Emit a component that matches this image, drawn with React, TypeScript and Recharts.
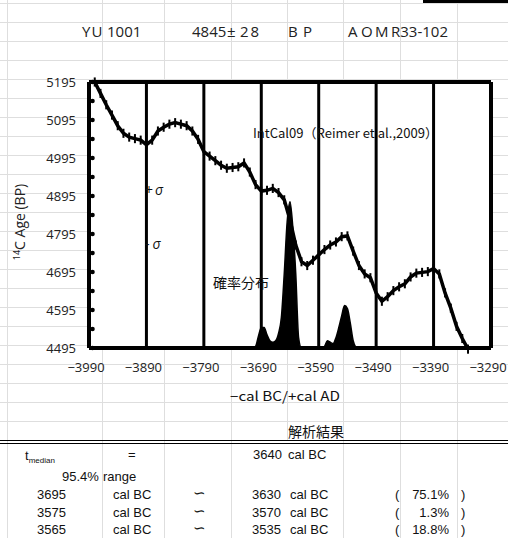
import { ComposedChart, Line, Area, XAxis, YAxis, CartesianGrid, ErrorBar, ReferenceLine } from 'recharts'

// IntCal09 curve, read every 10 years off the picture
const calYears = [
  -3980, -3970, -3960, -3950, -3940, -3930, -3920, -3910, -3900, -3890,
  -3880, -3870, -3860, -3850, -3840, -3830, -3820, -3810, -3800, -3790,
  -3780, -3770, -3760, -3750, -3740, -3730, -3720, -3710, -3700, -3690,
  -3680, -3670, -3660, -3650, -3640, -3630, -3620, -3610, -3600, -3590,
  -3580, -3570, -3560, -3550, -3540, -3530, -3520, -3510, -3500, -3490,
  -3480, -3470, -3460, -3450, -3440, -3430, -3420, -3410, -3400, -3390,
  -3380, -3370, -3360, -3350, -3340, -3330,
]
const c14Age = [
  5195, 5165, 5135, 5108, 5080, 5060, 5050, 5046, 5042, 5030,
  5042, 5066, 5076, 5084, 5088, 5084, 5080, 5066, 5044, 5012,
  5000, 4988, 4976, 4968, 4970, 4972, 4982, 4958, 4925, 4908,
  4910, 4915, 4904, 4885, 4832, 4766, 4722, 4712, 4726, 4740,
  4754, 4766, 4774, 4788, 4790, 4750, 4712, 4690, 4680, 4640,
  4618, 4630, 4646, 4656, 4664, 4682, 4692, 4694, 4696, 4704,
  4690, 4640, 4600, 4552, 4520, 4492,
]
const c14Err = [
  12, 12, 12, 12, 12, 12, 12, 12, 12, 12,
  12, 12, 12, 12, 12, 12, 12, 12, 12, 12,
  12, 12, 12, 12, 12, 12, 12, 12, 12, 12,
  12, 12, 12, 12, 12, 12, 12, 12, 12, 12,
  12, 12, 12, 12, 12, 12, 12, 12, 12, 12,
  12, 12, 12, 12, 12, 12, 12, 12, 12, 12,
  12, 12, 12, 12, 12, 12,
]

// probability distribution (relative, peak = 100)
const probYears = [
  -3705, -3700, -3695, -3690, -3685, -3680, -3675, -3670, -3665, -3660,
  -3655, -3650, -3645, -3640, -3635, -3630, -3625, -3620,
  -3585, -3580, -3575, -3570, -3565, -3560, -3555, -3550, -3545, -3540,
  -3535, -3530, -3525,
]
const probValues = [
  0, 1, 8, 14, 14, 9, 5, 4, 5, 10,
  21, 51, 86, 100, 82, 51, 7, 0,
  0, 1, 5, 4, 3, 7, 14, 22, 29, 27,
  17, 5, 0,
]

const xTicks = [-3990, -3890, -3790, -3690, -3590, -3490, -3390, -3290]
const yTicks = [
  4495, 4545, 4595, 4645, 4695, 4745, 4795, 4845,
  4895, 4945, 4995, 5045, 5095, 5145, 5195,
]

const curveData = calYears.map((year, i) => ({ year, age: c14Age[i], err: c14Err[i] }))
const probData = probYears.map((year, i) => ({ year, p: probValues[i] }))

const PLOT_LEFT = 89
const PLOT_BOTTOM = 348
const AXIS_FONT = '"Open Sans", sans-serif'
const JP_FONT = '"Noto Sans CJK JP", sans-serif'
const TABLE_FONT = '"Liberation Sans", Arial, sans-serif'

const gridCols = [7, 102, 164, 231, 287, 343, 400, 457]
const gridRows = [3, 22, 41, 60, 79, 98, 117, 136, 155, 174, 193, 212, 231, 250, 269, 288, 307, 326, 345, 364, 383, 402, 421]

function YTick({ y, payload }: any) {
  const v = payload.value
  const major = (v - 4495) % 100 === 0
  return (
    <g>
      <circle cx={PLOT_LEFT + 3.5} cy={y} r={2.3} fill="#000" />
      {major && (
        <text x={PLOT_LEFT - 13} y={y} dy={4.5} textAnchor="end" fontSize={13} fill="#222" fontFamily={AXIS_FONT}>
          {v}
        </text>
      )}
    </g>
  )
}

function XTick({ x, payload }: any) {
  return (
    <text x={x - 3} y={PLOT_BOTTOM + 24} textAnchor="middle" fontSize={13} fill="#222" fontFamily={AXIS_FONT}>
      {String(payload.value).replace('-', '\u2212')}
    </text>
  )
}

function SheetGrid() {
  return (
    <svg width={508} height={538} style={{ position: 'absolute', left: 0, top: 0 }}>
      {gridRows.map((r) => (
        <line key={'r' + r} x1={0} x2={508} y1={r + 0.5} y2={r + 0.5} stroke="#dedede" />
      ))}
      {gridCols.map((c) => (
        <line key={'c' + c} x1={c + 0.5} x2={c + 0.5} y1={0} y2={c === 287 ? 440 : 538} stroke="#dedede" />
      ))}
      <line x1={0} x2={508} y1={440.5} y2={440.5} stroke="#000" />
      <line x1={0} x2={508} y1={443.5} y2={443.5} stroke="#000" />
      <rect x={423} y={0} width={85} height={3} fill="#000" />
    </svg>
  )
}

function Labels() {
  const t = { fontFamily: TABLE_FONT, fontSize: 13, fill: '#111' }
  const rows = [
    { y: 499, a: '3695', b: '3630', pct: '75.1%' },
    { y: 517, a: '3575', b: '3570', pct: '1.3%' },
    { y: 534, a: '3565', b: '3535', pct: '18.8%' },
  ]
  return (
    <svg width={508} height={538} style={{ position: 'absolute', left: 0, top: 0, pointerEvents: 'none' }}>
      {/* title row */}
      <g fontFamily={AXIS_FONT} fontSize={15} fill="#222">
        <text x={82} y={37} letterSpacing={1}>YU</text>
        <text x={107} y={37}>1001</text>
        <text x={192} y={37}>4845</text>
        <text x={227} y={37}>±</text>
        <text x={240} y={37} letterSpacing={2}>28</text>
        <text x={288} y={37}>B</text>
        <text x={303} y={37}>P</text>
        <text x={348} y={37}>A</text>
        <text x={361} y={37}>O</text>
        <text x={375} y={37}>M</text>
        <text x={391} y={37}>R33-102</text>
      </g>

      {/* in-plot notes */}
      <text x={253} y={138} fontFamily={JP_FONT} fontSize={13} fill="#111" textLength={185} lengthAdjust="spacingAndGlyphs">
        IntCal09（Reimer et al.,2009）
      </text>
      <text x={145} y={195} fontFamily={AXIS_FONT} fontSize={14} fill="#111">
        +<tspan fontStyle="italic" dx={2}>σ</tspan>
      </text>
      <text x={145} y={249} fontFamily={AXIS_FONT} fontSize={14} fill="#111">
        -<tspan fontStyle="italic" dx={3}>σ</tspan>
      </text>
      <text x={213} y={288} fontFamily={JP_FONT} fontSize={14} fill="#111">確率分布</text>

      {/* axis titles */}
      <text transform="translate(25,222) rotate(-90)" textAnchor="middle" fontFamily={AXIS_FONT} fill="#222">
        <tspan fontSize={9} dy={-5}>14</tspan>
        <tspan fontSize={14} dy={5}>C Age (BP)</tspan>
      </text>
      <text x={230} y={401} fontFamily={JP_FONT} fontSize={13} fill="#111" textLength={110} lengthAdjust="spacingAndGlyphs">
        −cal BC/+cal AD
      </text>

      {/* result table */}
      <text x={288} y={437} fontFamily={JP_FONT} fontSize={14} fill="#111">解析結果</text>
      <text x={25} y={460} {...t}>
        t<tspan fontSize={8} dy={3}>median</tspan>
      </text>
      <text x={128} y={459} {...t}>=</text>
      <text x={253} y={459} {...t}>3640</text>
      <text x={288} y={459} {...t}>cal BC</text>
      <text x={62} y={481} {...t}>95.4%</text>
      <text x={103} y={481} {...t}>range</text>
      {rows.map((r) => (
        <g key={r.a}>
          <text x={37} y={r.y} {...t}>{r.a}</text>
          <text x={113} y={r.y} {...t}>cal BC</text>
          <text x={199} y={r.y - 1} {...t} fontSize={15} textAnchor="middle">∽</text>
          <text x={252} y={r.y} {...t}>{r.b}</text>
          <text x={290} y={r.y} {...t}>cal BC</text>
          <text x={395} y={r.y} {...t}>(</text>
          <text x={449} y={r.y} {...t} textAnchor="end">{r.pct}</text>
          <text x={461} y={r.y} {...t}>)</text>
        </g>
      ))}
    </svg>
  )
}

export default function App() {
  return (
    <div style={{ position: 'absolute', left: 0, top: 0, width: 508, height: 538, background: '#fff', overflow: 'hidden' }}>
      <SheetGrid />
      <div style={{ position: 'absolute', left: 0, top: 0 }}>
        <ComposedChart width={508} height={538} margin={{ top: 82, right: 17, bottom: 160, left: 0 }}>
          <CartesianGrid vertical horizontal={false} stroke="#000" strokeWidth={3} fill="#fff" fillOpacity={1} />
          <XAxis
            type="number"
            dataKey="year"
            domain={[-3990, -3290]}
            ticks={xTicks}
            allowDataOverflow
            height={30}
            axisLine={{ stroke: '#000', strokeWidth: 4 }}
            tickLine={false}
            tick={<XTick />}
            interval={0}
          />
          <YAxis
            yAxisId="c14"
            type="number"
            domain={[4495, 5195]}
            ticks={yTicks}
            allowDataOverflow
            width={89}
            axisLine={{ stroke: '#000', strokeWidth: 4 }}
            tickLine={false}
            tick={<YTick />}
            interval={0}
          />
          <YAxis yAxisId="p" type="number" domain={[0, 182]} hide allowDataOverflow />
          <Area
            yAxisId="p"
            data={probData}
            dataKey="p"
            type="monotone"
            stroke="#000"
            strokeWidth={1.5}
            fill="#000"
            fillOpacity={1}
            isAnimationActive={false}
          />
          <Line
            yAxisId="c14"
            data={curveData}
            dataKey="age"
            type="linear"
            stroke="#000"
            strokeWidth={3.5}
            dot={false}
            isAnimationActive={false}
          >
            <ErrorBar dataKey="err" direction="y" width={0} stroke="#000" strokeWidth={2} isAnimationActive={false} />
          </Line>
          <ReferenceLine yAxisId="c14" y={5195} stroke="#000" strokeWidth={4} />
          <ReferenceLine yAxisId="c14" x={-3290} stroke="#000" strokeWidth={4} />
        </ComposedChart>
      </div>
      <Labels />
    </div>
  )
}
